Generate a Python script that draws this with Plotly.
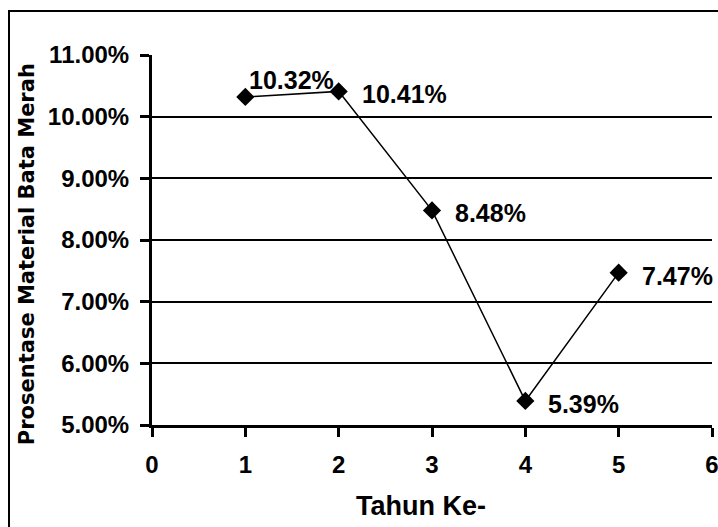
import plotly.graph_objects as go

years = [1, 2, 3, 4, 5]
percent_values = [10.32, 10.41, 8.48, 5.39, 7.47]
y_ticks = [5, 6, 7, 8, 9, 10, 11]
x_ticks = [0, 1, 2, 3, 4, 5, 6]
label_shift_x = [2, 21, 21, 21, 21]
label_shift_y = [17, -3, -3, -3, -3]

FONT = "Liberation Sans, Arial, sans-serif"

fig = go.Figure()
fig.add_trace(go.Scatter(
    x=years, y=percent_values, mode="lines+markers",
    line=dict(color="black", width=1.5),
    marker=dict(symbol="diamond", size=14, color="black"),
    showlegend=False, hoverinfo="skip",
))

for x, v, sx, sy in zip(years, percent_values, label_shift_x, label_shift_y):
    fig.add_annotation(
        x=x, y=v, xref="x", yref="y", text=f"{v:.2f}%", showarrow=False,
        xanchor="left", yanchor="middle", xshift=sx, yshift=sy,
        font=dict(family=FONT, size=25, color="black", weight="bold"),
    )

fig.add_annotation(
    x=0.48, y=-0.219, xref="paper", yref="paper", text="Tahun Ke-",
    showarrow=False, xanchor="center", yanchor="middle",
    font=dict(family=FONT, size=27, color="black", weight="bold"),
)
fig.add_annotation(
    x=-0.223, y=0.462, xref="paper", yref="paper",
    text="Prosentase Material Bata Merah", textangle=-90,
    showarrow=False, xanchor="center", yanchor="middle",
    font=dict(family="DejaVu Sans, sans-serif", size=21, color="black", weight="bold"),
)

# outer chart border
fig.add_shape(type="rect", xref="paper", yref="paper",
              x0=(9 - 152) / 560, x1=1.2, y0=-0.5, y1=(425 - 11) / 370,
              line=dict(color="black", width=2), fillcolor="rgba(0,0,0,0)", layer="below")

fig.update_layout(
    width=718, height=527,
    margin=dict(l=152, r=6, t=55, b=102, autoexpand=False),
    paper_bgcolor="white", plot_bgcolor="white",
    xaxis=dict(
        range=[0, 6], tickmode="array", tickvals=x_ticks,
        ticktext=[str(t) for t in x_ticks],
        showgrid=False, zeroline=False, automargin=False,
        showline=True, linecolor="black", linewidth=3,
        ticks="outside", ticklen=9, tickwidth=3, tickcolor="black",
        ticklabelstandoff=7, ticklabeloverflow="allow",
        tickfont=dict(family=FONT, size=24, color="black", weight="bold"),
    ),
    yaxis=dict(
        range=[5, 11], tickmode="array", tickvals=y_ticks,
        ticktext=[f"{t:.2f}%" for t in y_ticks],
        showgrid=True, gridcolor="black", gridwidth=1.5,
        zeroline=False, automargin=False,
        showline=True, linecolor="black", linewidth=3,
        ticks="outside", ticklen=9, tickwidth=3, tickcolor="black",
        ticklabelstandoff=6,
        tickfont=dict(family=FONT, size=24, color="black", weight="bold"),
    ),
)

fig.write_html("out.html", config={"displayModeBar": False},
               post_script="document.body.style.margin='0px';document.body.style.overflow='hidden';")
